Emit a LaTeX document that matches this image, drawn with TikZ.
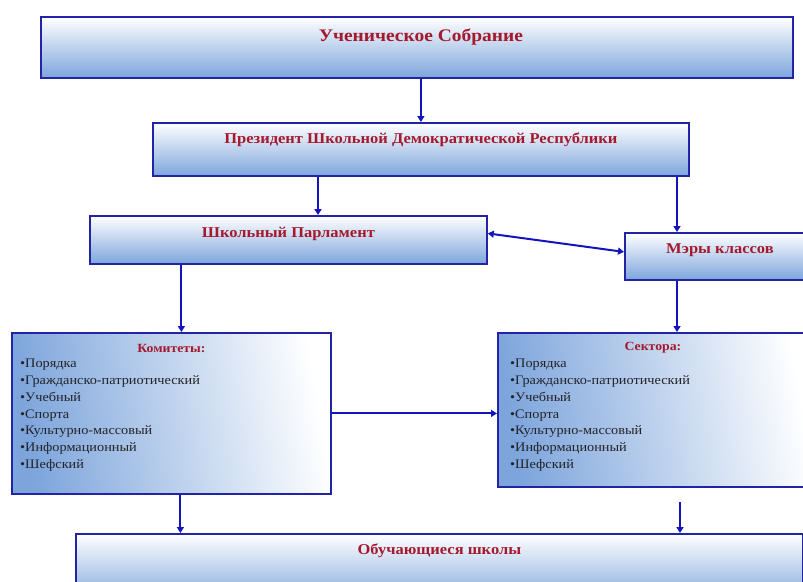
\documentclass[tikz,border=0pt]{standalone}
\usepackage{fontspec}
\setmainfont{Liberation Serif}[FakeStretch=1.1]
\usepackage{tikz}
\usetikzlibrary{arrows.meta}

\definecolor{ramkablue}{RGB}{35,35,165}
\definecolor{strelkablue}{RGB}{20,20,190}
\definecolor{titlered}{RGB}{165,25,45}
\definecolor{fillblue}{RGB}{125,165,220}
\definecolor{itemgray}{RGB}{35,35,40}

\tikzset{
  ramka/.style={draw=ramkablue, line width=1.8pt, top color=white, bottom color=fillblue,
    inner sep=0pt, anchor=north west},
  spisokramka/.style={ramka, shading angle=-80},
  zagolovok/.style={text=titlered, font=\bfseries\fontsize{15}{18}\selectfont, inner sep=0pt},
  punkty/.style={text=itemgray, font=\fontsize{13}{16.8}\selectfont, align=left, inner sep=0pt, anchor=north west},
  strelka/.style={draw=strelkablue, line width=2pt, -{Triangle[length=6pt,width=7pt]}},
  dvestrelki/.style={strelka, {Triangle[length=6pt,width=7pt]}-{Triangle[length=6pt,width=7pt]}}
}

\begin{document}
\begin{tikzpicture}[x=1pt, y=-1pt]
    \useasboundingbox (0,0) rectangle (803,581);
    \fill[white] (0,0) rectangle (803,581);
    \clip (0,0) rectangle (803,581);

    % draw boxes
    \node[ramka, minimum width=752pt, minimum height=61pt] (sobranie) at (40,16) {};
    \node[ramka, minimum width=536pt, minimum height=53pt] (prezident) at (152,122) {};
    \node[ramka, minimum width=397pt, minimum height=48pt] (parlament) at (89,215) {};
    \node[ramka, minimum width=190pt, minimum height=47pt] (mery) at (624,232) {};
    \node[spisokramka, minimum width=319pt, minimum height=161pt] (komitety) at (11,332) {};
    \node[spisokramka, minimum width=316pt, minimum height=154pt] (sektora) at (497,332) {};
    \node[ramka, minimum width=727pt, minimum height=70pt] (obuchayushchiesya) at (75,533) {};

    % draw titles
    \node[zagolovok, font=\bfseries\fontsize{17.7}{20}\selectfont] (sobranietext) at ([xshift=4pt, yshift=-21pt]sobranie.north) {Ученическое Собрание};
    \node[zagolovok] (prezidenttext) at ([yshift=-18pt]prezident.north) {Президент Школьной Демократической Республики};
    \node[zagolovok] (parlamenttext) at ([yshift=-19pt]parlament.north) {Школьный Парламент};
    \node[zagolovok] (merytext) at ([yshift=-18pt]mery.north) {Мэры классов};
    \node[zagolovok] (obuchayushchiesyatext) at ([yshift=-18pt]obuchayushchiesya.north) {Обучающиеся школы};
    \node[zagolovok, font=\bfseries\fontsize{12.5}{14}\selectfont] (komitetytext) at ([yshift=-16pt]komitety.north) {Комитеты:};
    \node[zagolovok, font=\bfseries\fontsize{12.5}{14}\selectfont] (sektoratext) at ([xshift=-3pt, yshift=-16pt]sektora.north) {Сектора:};

    % draw lists
    \node[punkty] (komitetylist) at ([xshift=9pt, yshift=-27pt]komitety.north west)
      {•Порядка\\•Гражданско-патриотический\\•Учебный\\•Спорта\\•Культурно-массовый\\•Информационный\\•Шефский};
    \node[punkty] (sektoralist) at ([xshift=13pt, yshift=-27pt]sektora.north west)
      {•Порядка\\•Гражданско-патриотический\\•Учебный\\•Спорта\\•Культурно-массовый\\•Информационный\\•Шефский};

    % draw connectors
    \coordinate (kparlamentu) at (318,0);
    \coordinate (kmeram) at (677,0);
    \coordinate (kshkole) at (680,0);
    \draw[strelka] (prezident.north |- sobranie.south) -- (prezident.north);
    \draw[strelka] (prezident.south -| kparlamentu) -- (parlament.north -| kparlamentu);
    \draw[strelka] (prezident.south -| kmeram) -- (mery.north -| kmeram);
    \draw[dvestrelki] ([yshift=6.5pt]parlament.east) -- ([yshift=4.5pt]mery.west);
    \draw[strelka] ([xshift=-107pt]parlament.south) -- ([xshift=-107pt]parlament.south |- komitety.north);
    \draw[strelka] (mery.south -| kmeram) -- (komitety.north -| kmeram);
    \draw[strelka] (komitety.east) -- (komitety.east -| sektora.west);
    \draw[strelka] (komitety.south) ++(9pt,0) -- ([xshift=9pt]komitety.south |- obuchayushchiesya.north);
    \draw[strelka] ([yshift=-7pt]komitety.south -| kshkole) -- (obuchayushchiesya.north -| kshkole);
\end{tikzpicture}
\end{document}
